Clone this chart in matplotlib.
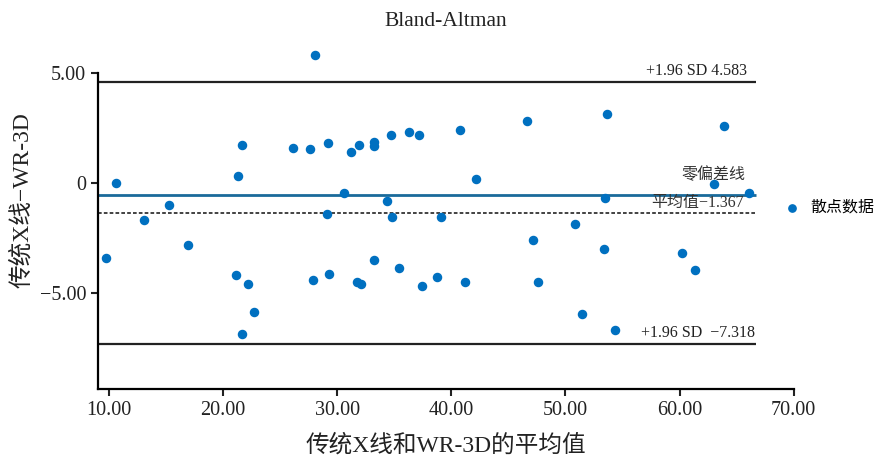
import numpy as np
import matplotlib
matplotlib.use("Agg")
import matplotlib.pyplot as plt

plt.rcParams['font.family'] = ['Liberation Serif', 'Noto Sans CJK SC', 'DejaVu Sans']
plt.rcParams['axes.unicode_minus'] = True

# 平均值 (x) 和 差值 (y)
mean_vals = [9.74, 10.61, 13.06, 15.25, 16.92, 21.12, 21.30, 21.65, 21.65, 22.17,
             22.70, 26.11, 27.60, 27.86, 28.04, 29.18, 29.09, 29.26, 30.58, 31.19,
             31.89, 31.72, 32.07, 33.20, 33.20, 33.20, 34.34, 34.69, 34.78, 35.39,
             36.27, 37.15, 37.41, 38.72, 39.07, 40.74, 41.17, 42.14, 46.60, 47.13,
             47.57, 50.81, 53.35, 53.43, 53.61, 51.42, 54.31, 60.26, 61.40, 62.98,
             63.94, 66.13]
diff_vals = [-3.41, 0.00, -1.68, -1.00, -2.82, -4.18, 0.32, 1.73, -6.86, -4.59,
             -5.86, 1.59, 1.55, -4.41, 5.82, 1.82, -1.41, -4.14, -0.45, 1.41,
             1.73, -4.50, -4.59, 1.86, 1.68, -3.50, -0.82, 2.18, -1.55, -3.86,
             2.32, 2.18, -4.68, -4.27, -1.55, 2.41, -4.50, 0.18, 2.82, -2.59,
             -4.50, -1.86, -3.00, -0.68, 3.14, -5.95, -6.68, -3.18, -3.95, -0.05,
             2.59, -0.45]

upper_loa = 4.583
lower_loa = -7.318
mean_diff = -1.367
zero_line = -0.55

xticks = [10, 20, 30, 40, 50, 60, 70]
yticks = [-5, 0, 5]
ytick_labels = ["\u22125.00", "0", "5.00"]

fig = plt.figure(figsize=(8.75, 4.59), dpi=100)
ax = fig.add_axes([0.112, 0.1525, 0.795, 0.7605])

xmin, xmax = 9.04, 70
line_end = 66.74
ax.set_xlim(xmin, xmax)
ax.set_ylim(-9.36, 6.5)

ax.hlines(upper_loa, xmin, line_end, color="#222222", lw=1.6)
ax.hlines(lower_loa, xmin, line_end, color="#222222", lw=1.6)
ax.hlines(mean_diff, xmin, line_end, color="#222222", lw=1.2, linestyles=(0, (2.2, 1.3)))
ax.hlines(zero_line, xmin, line_end, color="#1a6a9a", lw=2.0)

ax.scatter(mean_vals, diff_vals, s=34, color="#0070c0", zorder=3, label="散点数据")

ax.text(65.95, upper_loa + 0.12, "+1.96 SD 4.583", ha="right", va="bottom", fontsize=11.5, color="#222222")
ax.text(65.8, 0.36, "零偏差线", ha="right", va="center", fontsize=11.5, color="#333333")
ax.text(65.6, -0.91, "平均值\u22121.367", ha="right", va="center", fontsize=11.5, color="#333333")
ax.text(66.6, lower_loa + 0.12, "+1.96 SD  \u22127.318", ha="right", va="bottom", fontsize=11.5, color="#222222")

ax.set_xticks(xticks)
ax.set_xticklabels(["%.2f" % v for v in xticks])
ax.set_yticks(yticks)
ax.set_yticklabels(ytick_labels)
ax.tick_params(axis="both", direction="out", length=5, width=1.5, labelsize=14.5, colors="#222222")

for s in ["top", "right"]:
    ax.spines[s].set_visible(False)
ax.spines["left"].set_bounds(-9.36, 5)
ax.spines["left"].set_linewidth(1.6)
ax.spines["bottom"].set_linewidth(1.6)

ax.set_title("Bland-Altman", fontsize=15.5, pad=10, color="#222222")
ax.set_xlabel("传统X线和WR-3D的平均值", fontsize=17, labelpad=10, color="#222222")
ax.set_ylabel("传统X线\u2212WR-3D", fontsize=17, color="#222222")
ax.yaxis.set_label_coords(-0.093, 0.54)

ax.legend(loc="center left", bbox_to_anchor=(0.966, 0.519), frameon=False,
          fontsize=11.5, handletextpad=0.1, markerscale=0.9, borderaxespad=0)

fig.savefig("out.png", dpi=100)
